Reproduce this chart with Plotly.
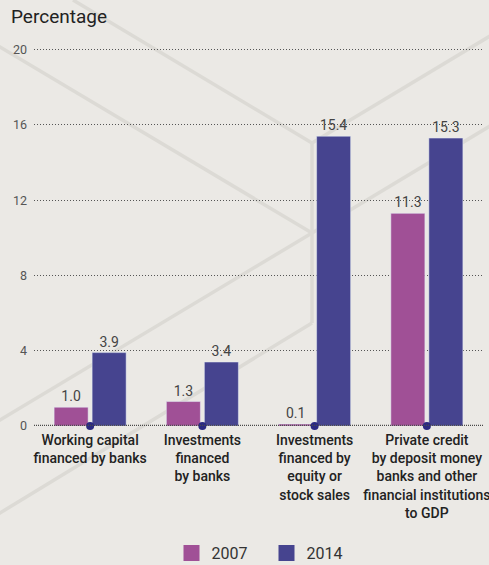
import plotly.graph_objects as go

# Survey indicators (percent)
categories = [
    "Working capital<br>financed by banks",
    "Investments<br>financed<br>by banks",
    "Investments<br>financed by<br>equity or<br>stock sales",
    "Private credit<br>by deposit money<br>banks and other<br>financial institutions<br>to GDP",
]
values_2007 = [1.0, 1.3, 0.1, 11.3]
values_2014 = [3.9, 3.4, 15.4, 15.3]
base_marks = [0, 0, 0, 0]
y_ticks = [0, 4, 8, 12, 16, 20]

COLOR_2007 = "#a05096"
COLOR_2014 = "#46448f"
DOT_COLOR = "#2b2a82"
BG = "#ebe9e5"
FONT = "Roboto, sans-serif"

W, H = 489, 565
ML, MR, MT, MB = 34, 6, 44, 139
PW, PH = W - ML - MR, H - MT - MB
Y_MAX = 20.3


def to_paper(x, y):
    return (x - ML) / PW, (H - MB - y) / PH


fig = go.Figure()

fig.add_trace(go.Bar(
    x=categories, y=values_2007, name="2007", marker_color=COLOR_2007,
    texttemplate="%{y:.1f}", textposition="outside", cliponaxis=False,
    textfont=dict(size=14, color="#444444", family=FONT), showlegend=False,
))
fig.add_trace(go.Bar(
    x=categories, y=values_2014, name="2014", marker_color=COLOR_2014,
    texttemplate="%{y:.1f}", textposition="outside", cliponaxis=False,
    textfont=dict(size=14, color="#444444", family=FONT), showlegend=False,
))

# Dots marking each category on the baseline
fig.add_trace(go.Scatter(
    x=categories, y=base_marks, mode="markers", cliponaxis=False,
    marker=dict(size=8, color=DOT_COLOR), showlegend=False, hoverinfo="skip",
))

# Legend entries with square swatches
for name, col in [("2007", COLOR_2007), ("2014", COLOR_2014)]:
    fig.add_trace(go.Scatter(
        x=[None], y=[None], mode="markers", name=name,
        marker=dict(symbol="square", size=19, color=col),
    ))

# Decorative background outline
bg_lines = [
    ((73, 0), (312, 143)),
    ((312, 143), (500, 30)),
    ((312, 143), (312, 323)),
    ((-5, 44), (312, 233)),
    ((312, 233), (500, 120)),
    ((-5, 423), (312, 233)),
    ((-5, 516), (312, 323)),
]
for (x0, y0), (x1, y1) in bg_lines:
    px0, py0 = to_paper(x0, y0)
    px1, py1 = to_paper(x1, y1)
    fig.add_shape(type="line", xref="paper", yref="paper",
                  x0=px0, y0=py0, x1=px1, y1=py1,
                  line=dict(color="#dcdad5", width=3.5), layer="below")

# Baseline
fig.add_shape(type="line", xref="paper", yref="y", x0=0, x1=1, y0=0, y1=0,
              line=dict(color="#4a4a4a", width=2.5, dash="1px,1px"), layer="above")

# Axis title
tx, ty = to_paper(9, 3)
fig.add_annotation(text="Percentage", xref="paper", yref="paper", x=tx, y=ty,
                   xanchor="left", yanchor="top", showarrow=False,
                   font=dict(size=19, color="#222222", family=FONT))

fig.update_layout(
    width=W, height=H,
    margin=dict(l=ML, r=MR, t=MT, b=MB, autoexpand=False),
    paper_bgcolor=BG, plot_bgcolor="rgba(0,0,0,0)",
    barmode="group", bargap=0.323, bargroupgap=0.105,
    font=dict(family=FONT),
    legend=dict(
        orientation="h", x=0.5 + 8 / PW, xanchor="center",
        y=(H - MB - 553) / PH, yanchor="middle",
        font=dict(size=16, color="#333333", family=FONT),
        entrywidth=50, itemsizing="trace", bgcolor="rgba(0,0,0,0)",
    ),
)
fig.update_xaxes(
    showgrid=False, showline=False, zeroline=False, ticks="",
    tickangle=0, automargin=False, ticklabelstandoff=4,
    tickfont=dict(size=14, color="#222222", family=FONT, weight=500),
)
fig.update_yaxes(
    range=[0, Y_MAX], tickvals=y_ticks, showline=False, zeroline=False,
    showgrid=True, gridcolor="#555555", gridwidth=1, griddash="1px,2px",
    ticks="", automargin=False, ticklabelstandoff=6,
    tickfont=dict(size=12.5, color="#555555", family=FONT),
)

fig.write_html("out.html")
